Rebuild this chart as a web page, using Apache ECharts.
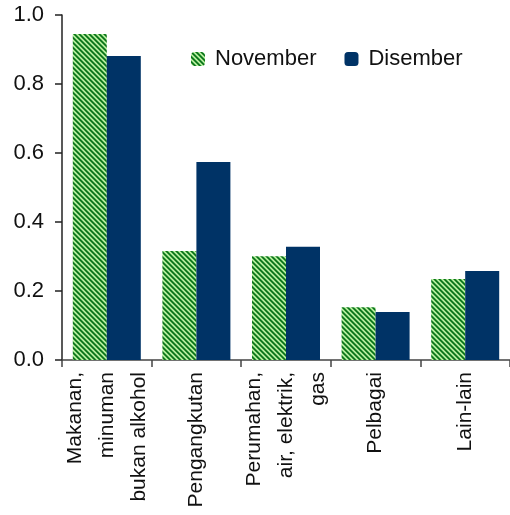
<!DOCTYPE html>
<html>
<head>
<meta charset="utf-8">
<script src="https://cdn.jsdelivr.net/npm/echarts@6/dist/echarts.min.js"></script>
<style>html,body{margin:0;padding:0;background:#fff;}#c{width:510px;height:515px;}</style>
</head>
<body>
<div id="c"></div>
<script>
var categories = ['Makanan,\nminuman\nbukan alkohol', 'Pengangkutan', 'Perumahan,\nair, elektrik,\ngas', 'Pelbagai', 'Lain-lain'];
var november = [0.945, 0.316, 0.301, 0.153, 0.235];
var disember = [0.881, 0.574, 0.328, 0.139, 0.258];
var yTicks = [0, 0.2, 0.4, 0.6, 0.8, 1.0];

function stripePattern() {
  var P = 5;
  var cv = document.createElement('canvas');
  cv.width = P; cv.height = P;
  var ctx = cv.getContext('2d');
  var cols = ['#0b6b1d', '#1a8a2c', '#8fd57a', '#c4f0b0', '#5cb64e'];
  for (var y = 0; y < P; y++) {
    for (var x = 0; x < P; x++) {
      var k = (((x - y) % P) + P) % P;
      ctx.fillStyle = cols[k];
      ctx.fillRect(x, y, 1, 1);
    }
  }
  return { image: cv, repeat: 'repeat' };
}

var chart = echarts.init(document.getElementById('c'), null, { renderer: 'canvas' });
var font = 'Liberation Sans, Arial, Helvetica, sans-serif';
chart.setOption({
  animation: false,
  backgroundColor: '#fff',
  grid: { left: 62, top: 15, bottom: 155, width: 452, containLabel: false },
  legend: {
    top: 43, left: 186,
    itemWidth: 14, itemHeight: 14, itemGap: 28,
    textStyle: { fontFamily: font, fontSize: 22, color: '#111', padding: [0, 0, 0, 5] },
    data: ['November', 'Disember']
  },
  xAxis: {
    type: 'category',
    data: categories,
    axisLine: { lineStyle: { color: '#444', width: 1.5 } },
    axisTick: { show: true, length: 7, alignWithLabel: false, lineStyle: { color: '#444', width: 1.5 } },
    axisLabel: { rotate: 90, margin: 12, fontFamily: font, fontSize: 21, lineHeight: 32, color: '#111', interval: 0 }
  },
  yAxis: {
    type: 'value', min: 0, max: 1.0, interval: 0.2,
    axisLine: { show: true, lineStyle: { color: '#222', width: 1.5 } },
    axisTick: { show: true, length: 7, lineStyle: { color: '#222', width: 1.5 } },
    splitLine: { show: false },
    axisLabel: { margin: 18, fontFamily: font, fontSize: 22, color: '#111', formatter: function (v) { return v.toFixed(1); } }
  },
  series: [
    { name: 'November', type: 'bar', data: november, barWidth: 34, barGap: '0%', itemStyle: { color: stripePattern() } },
    { name: 'Disember', type: 'bar', data: disember, barWidth: 34, barGap: '0%', itemStyle: { color: '#003366' } }
  ]
});
</script>
</body>
</html>
